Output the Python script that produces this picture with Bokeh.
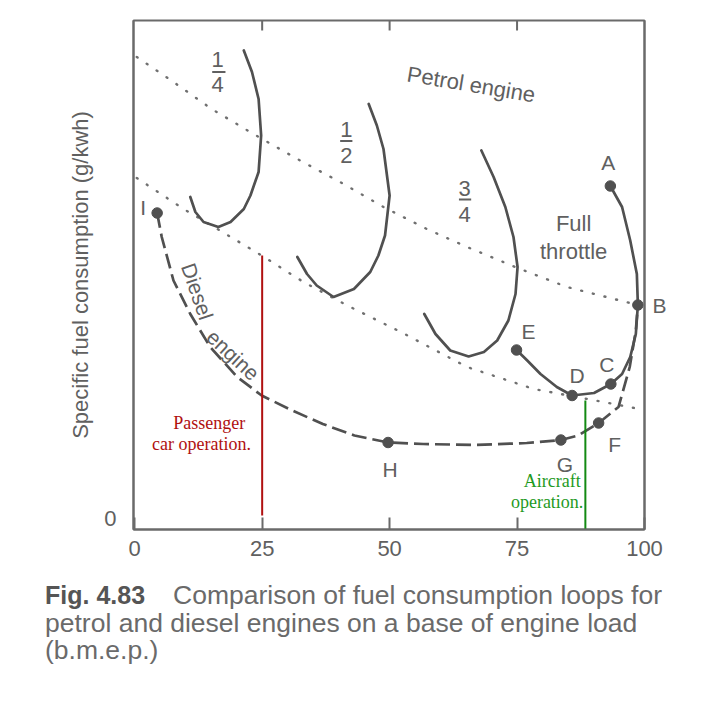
from bokeh.plotting import figure
from bokeh.models import Range1d, FixedTicker, LinearAxis, Label, Div
from bokeh.layouts import column
from bokeh.embed import file_html
from bokeh.resources import INLINE

# ---------------- data ----------------
x_ticks = [0, 25, 50, 75, 100]
y_ticks = [0]

# petrol full-throttle loop A-B-C-D-E
full_x = [93.3, 95.6, 97.2, 98.5, 98.7, 98.3, 97.2, 95.6, 93.4, 90.1, 85.8, 82.8, 79.6, 77.0, 74.9]
full_y = [66.5, 62.3, 55.6, 48.9, 42.7, 36.9, 32.3, 28.9, 26.9, 25.1, 24.6, 26.3, 28.9, 31.6, 33.7]

# diesel loop I-H-G-F-B
diesel_x = [4.4, 5.3, 7.6, 10.9, 14.8, 20.1, 24.9, 30.9, 36.9, 43.1, 49.7, 56.6, 66.7, 76.9, 83.6, 87.0, 91.0, 94.9, 97.1, 98.3, 98.7]
diesel_y = [61.1, 56.3, 47.6, 40.9, 34.3, 28.3, 24.6, 21.6, 18.9, 16.6, 15.2, 14.9, 14.7, 15.1, 15.7, 16.6, 19.1, 22.3, 30.3, 37.6, 42.7]

# petrol part-throttle loops
quarter_x = [21.4, 23.0, 24.3, 24.8, 24.3, 22.7, 21.4, 18.8, 16.4, 13.5, 11.9, 10.9]
quarter_y = [93.6, 89.3, 83.9, 76.6, 69.3, 64.6, 61.9, 59.3, 58.3, 59.3, 61.3, 64.3]
half_x = [45.9, 47.5, 48.8, 50.0, 49.1, 47.8, 46.2, 43.0, 39.0, 35.7, 33.8, 31.9]
half_y = [82.9, 78.6, 73.9, 64.6, 56.6, 52.6, 49.3, 45.9, 44.3, 46.6, 48.9, 52.3]
three_q_x = [68.0, 70.4, 72.7, 74.3, 75.1, 74.7, 73.3, 71.1, 68.5, 65.5, 61.9, 59.0, 56.8]
three_q_y = [73.6, 68.3, 62.3, 56.3, 50.3, 44.9, 39.6, 35.6, 33.3, 32.4, 33.6, 36.9, 40.9]

# dotted envelope lines
petrol_env_x = [0.4, 7.6, 15.1, 23.3, 31.9, 41.0, 48.8, 57.3, 65.2, 75.1, 84.8, 97.9, 98.6]
petrol_env_y = [92.3, 87.3, 81.9, 76.9, 71.9, 66.9, 62.3, 57.9, 54.3, 50.1, 46.3, 42.9, 42.7]
diesel_env_x = [0.4, 9.6, 16.7, 24.9, 33.1, 41.7, 52.2, 65.2, 78.3, 91.4, 99.5]
diesel_env_y = [68.1, 61.9, 57.6, 52.6, 47.3, 42.6, 37.3, 30.3, 25.9, 23.4, 21.8]

# operating points
pt_names = ["A", "B", "C", "D", "E", "F", "G", "H", "I"]
pt_x = [93.3, 98.7, 93.4, 85.8, 74.9, 91.0, 83.6, 49.7, 4.4]
pt_y = [66.5, 42.7, 26.9, 24.6, 33.7, 19.1, 15.7, 15.2, 61.1]

# operation markers
car_load = 25.0
car_y = [0.6, 52.6]
aircraft_load = 88.4
aircraft_y = [-2.2, 23.6]

caption_bold = "Fig. 4.83"
caption_lines = ["Comparison of fuel consumption loops for",
                 "petrol and diesel engines on a base of engine load",
                 "(b.m.e.p.)"]

# ---------------- styling ----------------
GRAY = "#505050"
FRAME = "#6a6a6a"
TXT = "#606060"
SANS = "Liberation Sans"
SERIF = "Liberation Serif"
Y_TOP = 99.6

p = figure(width=700, height=580,
           x_range=Range1d(-0.24, 100), y_range=Range1d(-2.2, Y_TOP),
           output_backend="svg", toolbar_location=None)
p.min_border_left = 133
p.min_border_right = 56
p.min_border_top = 20
p.min_border_bottom = 51
p.xgrid.visible = False
p.ygrid.visible = False
p.outline_line_color = FRAME
p.outline_line_width = 2
p.background_fill_color = "white"
p.border_fill_color = "white"

xa = p.xaxis[0]
xa.ticker = FixedTicker(ticks=x_ticks)
xa.major_tick_in = 12
xa.major_tick_out = 0
xa.minor_tick_in = 0
xa.minor_tick_out = 0
xa.major_tick_line_color = FRAME
xa.major_tick_line_width = 2
xa.axis_line_color = FRAME
xa.axis_line_width = 2
xa.major_label_standoff = 11
xa.major_label_text_font = SANS
xa.major_label_text_font_size = "22px"
xa.major_label_text_color = TXT

ya = p.yaxis[0]
ya.ticker = FixedTicker(ticks=y_ticks)
ya.major_tick_in = 0
ya.major_tick_out = 0
ya.minor_tick_in = 0
ya.minor_tick_out = 0
ya.axis_line_color = FRAME
ya.axis_line_width = 2
ya.major_label_standoff = 17
ya.major_label_text_font = SANS
ya.major_label_text_font_size = "22px"
ya.major_label_text_color = TXT
ya.axis_label = "Specific fuel consumption (g/kwh)"
ya.axis_label_text_font = SANS
ya.axis_label_text_font_size = "22px"
ya.axis_label_text_font_style = "normal"
ya.axis_label_text_color = TXT
ya.axis_label_standoff = 8

# right border axis carrying the label of point B
b_idx = pt_names.index("B")
ra = LinearAxis(ticker=FixedTicker(ticks=[pt_y[b_idx]]),
                major_label_overrides={pt_y[b_idx]: "B"})
ra.major_tick_in = 0
ra.major_tick_out = 0
ra.minor_tick_in = 0
ra.minor_tick_out = 0
ra.axis_line_color = FRAME
ra.axis_line_width = 2
ra.major_label_standoff = 8
ra.major_label_text_font = SANS
ra.major_label_text_font_size = "21px"
ra.major_label_text_color = TXT
p.add_layout(ra, "right")

# inward ticks along the top border
inner_ticks = x_ticks[1:-1]
p.segment(x0=inner_ticks, y0=[Y_TOP] * len(inner_ticks), x1=inner_ticks,
          y1=[Y_TOP - 2] * len(inner_ticks), line_color=FRAME, line_width=2)

# dotted envelopes
for ex, ey in [(petrol_env_x, petrol_env_y), (diesel_env_x, diesel_env_y)]:
    p.line(ex, ey, line_color="#707070", line_width=2.4, line_dash="1 11", line_cap="round")

# part-throttle loops
for cx, cy in [(quarter_x, quarter_y), (half_x, half_y), (three_q_x, three_q_y)]:
    p.line(cx, cy, line_color=GRAY, line_width=2.7, line_join="round", line_cap="round")

# full throttle
p.line(full_x, full_y, line_color=GRAY, line_width=2.7, line_join="round")
# diesel
p.line(diesel_x, diesel_y, line_color=GRAY, line_width=2.7, line_dash="15 6", line_join="round")

p.scatter(pt_x, pt_y, size=10.5, fill_color=GRAY, line_color=GRAY)

# operation lines
p.line([car_load, car_load], car_y, line_color="#b01010", line_width=2)
p.line([aircraft_load, aircraft_load], aircraft_y, line_color="#138a13", line_width=2)

# point letters (offsets in screen px)
letter_off = {"A": (-2, 24), "C": (-4, 20), "D": (5, 20), "E": (12, 19),
              "F": (16, -21), "G": (4, -24), "H": (2, -27), "I": (-14, 6)}
for n, x, y in zip(pt_names, pt_x, pt_y):
    if n not in letter_off:
        continue
    dx, dy = letter_off[n]
    p.add_layout(Label(x=x, y=y, x_offset=dx, y_offset=dy, text=n, text_align="center",
                       text_baseline="middle", text_font=SANS, text_font_size="21px",
                       text_color=TXT))

def lab(x, y, t, size="22px", color=TXT, font=SANS, angle=0, align="center",
        baseline="middle", style="normal"):
    p.add_layout(Label(x=x, y=y, text=t, text_align=align, text_baseline=baseline,
                       text_font=font, text_font_size=size, text_color=color,
                       angle=angle, angle_units="deg", text_font_style=style))

lab(66.0, 86.8, "Petrol engine", angle=-9.5)
lab(86.1, 59.0, "Full")
lab(86.1, 53.4, "throttle")
lab(12.3, 45.4, "Diesel", size="21px", angle=-71)
lab(19.3, 32.7, "engine", size="21px", angle=-43)

# fractions
fractions = [("1", "4", 16.25, 91.9, 86.9, 89.3, 15.2, 17.8),
             ("1", "2", 41.5, 77.9, 72.7, 75.5, 40.3, 42.7),
             ("3", "4", 64.7, 66.1, 60.8, 63.8, 63.6, 66.0)]
for num, den, fx, ny, dy_, by, bx0, bx1 in fractions:
    lab(fx, ny, num, size="22px")
    lab(fx, dy_, den, size="22px")
    p.segment(x0=[bx0], y0=[by], x1=[bx1], y1=[by], line_color=TXT, line_width=2)

# operation notes
lab(14.6, 19.1, "Passenger", size="18px", color="#b01010", font=SERIF)
lab(13.1, 15.0, "car operation.", size="18px", color="#b01010", font=SERIF)
lab(81.9, 7.5, "Aircraft", size="18px", color="#1f9a1f", font=SERIF)
lab(80.9, 3.3, "operation.", size="18px", color="#1f9a1f", font=SERIF)

# caption
cap_html = (
    '<div style="font-family:\'Liberation Sans\',Arial,sans-serif;font-size:26.5px;'
    'line-height:27.5px;color:#6a6a6a;padding-left:45px;padding-top:2px;white-space:nowrap;">'
    '<span style="display:inline-block;width:128px;font-weight:bold;font-size:25px;color:#555555;">'
    + caption_bold + '</span>' + caption_lines[0] + '<br>' + caption_lines[1] + '<br>'
    + caption_lines[2] + '</div>'
)
cap = Div(text=cap_html, width=700, height=100, margin=(0, 0, 0, 0))

layout = column(p, cap, spacing=0)
open("out.html", "w").write(file_html(layout, INLINE))
